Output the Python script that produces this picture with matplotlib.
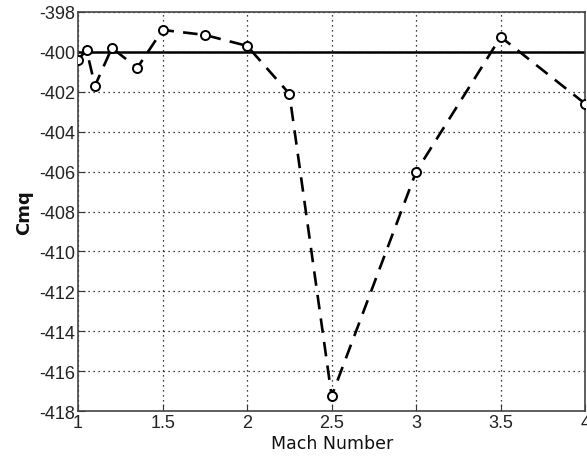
import matplotlib.pyplot as plt
import numpy as np

mach = [1.0, 1.05, 1.1, 1.2, 1.35, 1.5, 1.75, 2.0, 2.25, 2.5, 3.0, 3.5, 4.0]
cmq = [-400.4, -399.9, -401.7, -399.8, -400.8, -398.9, -399.15, -399.7,
       -402.1, -417.25, -406.0, -399.25, -402.6]
ref_level = -400.0

plt.rcParams['font.family'] = ['Liberation Sans', 'DejaVu Sans']
plt.rcParams['axes.unicode_minus'] = False

fig = plt.figure(figsize=(5.87, 4.64), dpi=100)
ax = fig.add_axes([0.133, 0.112, 0.864, 0.86])

ax.axhline(ref_level, color='k', lw=1.8, zorder=2)
ax.plot(mach, cmq, '--', color='k', lw=1.9, dashes=(5.5, 3.5),
        marker='o', ms=6.5, mfc='white', mec='k', mew=1.4, zorder=3)

ax.set_xlim(1, 4)
ax.set_ylim(-418, -398)
ax.set_xticks([1, 1.5, 2, 2.5, 3, 3.5, 4])
ax.set_xticklabels(['1', '1.5', '2', '2.5', '3', '3.5', '4'])
ax.set_yticks(np.arange(-418, -397, 2))
ax.grid(True, linestyle=(0, (1, 3)), color='k', lw=0.9)
ax.tick_params(direction='in', labelsize=13, length=5, pad=2,
               color='#333333', labelcolor='#222222')
for s in ax.spines.values():
    s.set_color('#444444')
    s.set_linewidth(1.2)

# labels a bit heavier than tick text, like the original
ax.set_xlabel('Mach Number', fontsize=12.5, family='DejaVu Sans', labelpad=2,
              color='#111111')
ax.set_ylabel('Cmq', fontsize=13, family='DejaVu Sans', fontweight='bold',
              labelpad=4, color='#111111')

fig.savefig('out.png', dpi=100)
